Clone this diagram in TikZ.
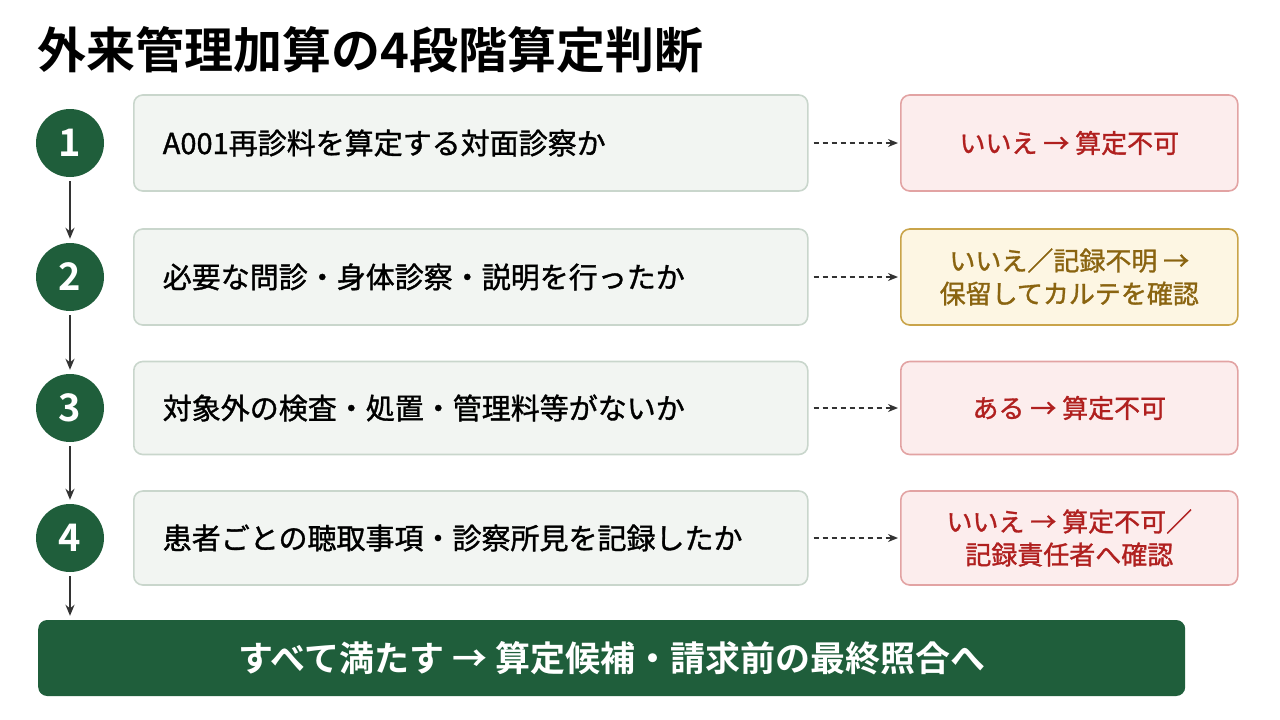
\documentclass[tikz,border=0pt]{standalone}
\usepackage{fontspec}
\setmainfont{Noto Sans CJK JP}
\newfontfamily\jpb{Noto Sans CJK JP Bold}
\newfontfamily\jpm[FakeBold=1.2]{Noto Sans CJK JP}
\usetikzlibrary{arrows.meta}
\definecolor{dg}{HTML}{1F5E3B}
\definecolor{qf}{HTML}{F2F5F2}
\definecolor{qb}{HTML}{C9D6CC}
\definecolor{rf}{HTML}{FCEDED}
\definecolor{rb}{HTML}{E2A3A3}
\definecolor{rt}{HTML}{B0201F}
\definecolor{af}{HTML}{FDF6E3}
\definecolor{ab}{HTML}{C9A44A}
\definecolor{at}{HTML}{8A6410}
\begin{document}
\begin{tikzpicture}[x=1pt,y=-1pt,
 num/.style={circle,fill=dg,minimum size=68pt,inner sep=0,text=white,font=\jpb\fontsize{38}{38}\selectfont},
 q/.style={draw=qb,fill=qf,rounded corners=9pt,line width=1.6pt,minimum width=674pt,anchor=west,text width=616pt,inner xsep=28pt,align=left,font=\jpm\fontsize{29}{32}\selectfont},
 rr/.style={draw=rb,fill=rf,rounded corners=9pt,line width=1.6pt,minimum width=337pt,anchor=west,align=center,text=rt,font=\jpm\fontsize{26}{33}\selectfont},
 aa/.style={rr,draw=ab,fill=af,text=at},
 da/.style={line width=1.6pt,dash pattern=on 5pt off 4pt,-{Stealth[length=10pt,width=8pt]},draw=black!80},
 va/.style={line width=2pt,-{Stealth[length=11pt,width=9pt]},draw=black!80}]
\useasboundingbox (0,0) rectangle (1280,720);
\node[anchor=west,font=\jpb\fontsize{49}{50}\selectfont] (t) at (34,50) {外来管理加算の4段階算定判断};
\foreach \i/\y in {1/143,2/277,3/408,4/538}{
 \node[num] (n\i) at (70,\y) {\i};
}
\node[q,minimum height=96pt] (q1) at (133,143) {A001再診料を算定する対面診察か};
\node[q,minimum height=96pt] (q2) at (133,277) {必要な問診・身体診察・説明を行ったか};
\node[q,minimum height=93pt] (q3) at (133,408) {対象外の検査・処置・管理料等がないか};
\node[q,minimum height=94pt] (q4) at (133,538) {患者ごとの聴取事項・診察所見を記録したか};
\node[rr,minimum height=96pt] (r1) at (900,143) {いいえ → 算定不可};
\node[aa,minimum height=96pt] (r2) at (900,277) {いいえ／記録不明 →\\保留してカルテを確認};
\node[rr,minimum height=93pt] (r3) at (900,408) {ある → 算定不可};
\node[rr,minimum height=94pt] (r4) at (900,538) {いいえ → 算定不可／\\記録責任者へ確認};
\foreach \i in {1,...,4}{ \draw[da] ([xshift=5pt]q\i.east) -- ([xshift=-2pt]r\i.west); }
\node[fill=dg,rounded corners=9pt,minimum width=1147pt,minimum height=76pt,anchor=west,text=white,font=\jpb\fontsize{35}{36}\selectfont] (b) at (38,658) {すべて満たす → 算定候補・請求前の最終照合へ};
\draw[va] ([yshift=-4pt]n1.south) -- ([yshift=4pt]n2.north);
\draw[va] ([yshift=-4pt]n2.south) -- ([yshift=4pt]n3.north);
\draw[va] ([yshift=-4pt]n3.south) -- ([yshift=4pt]n4.north);
\draw[va] ([yshift=-4pt]n4.south) -- ([yshift=4pt]b.north -| n4);
\end{tikzpicture}
\end{document}
